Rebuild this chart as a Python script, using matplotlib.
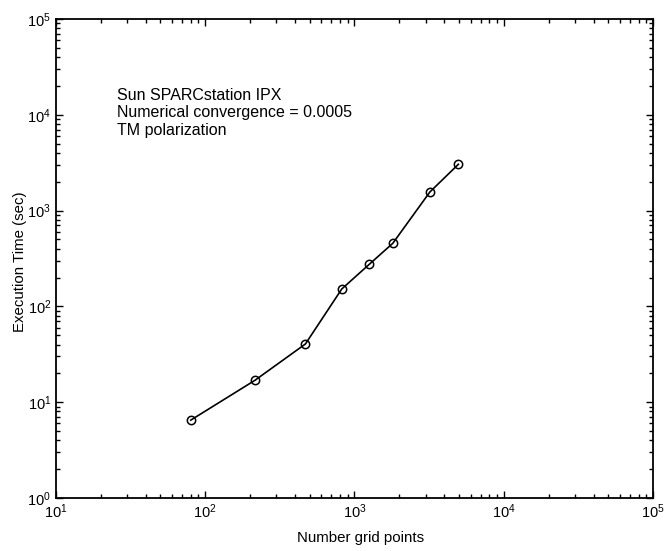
import matplotlib
matplotlib.use("Agg")
import matplotlib.pyplot as plt
from matplotlib.ticker import LogLocator, NullFormatter

plt.rcParams['font.family'] = ['Liberation Sans', 'DejaVu Sans']
plt.rcParams['mathtext.fontset'] = 'custom'
plt.rcParams['mathtext.rm'] = 'Liberation Sans'
plt.rcParams['mathtext.it'] = 'Liberation Sans:italic'
plt.rcParams['mathtext.bf'] = 'Liberation Sans:bold'

grid_points = [80, 215, 469, 822, 1256, 1807, 3200, 4966]
exec_time = [6.5, 16.9, 40.5, 152, 275, 456, 1564, 3043]
annotation_lines = ["Sun SPARCstation IPX", "Numerical convergence = 0.0005", "TM polarization"]

fig = plt.figure(figsize=(6.64, 5.51), dpi=100)
ax = fig.add_axes([0.0843, 0.0962, 0.8991, 0.8693])
ax.plot(grid_points, exec_time, color='black', lw=1.2, marker='o', ms=6,
        mfc='none', mec='black', mew=1.1)
ax.set_xscale('log')
ax.set_yscale('log')
ax.set_xlim(1e1, 1e5)
ax.set_ylim(1e0, 1e5)
for axis in (ax.xaxis, ax.yaxis):
    axis.set_major_locator(LogLocator(base=10, numticks=10))
    axis.set_minor_locator(LogLocator(base=10, subs=range(2, 10), numticks=20))
    axis.set_minor_formatter(NullFormatter())
ax.tick_params(which='both', direction='in', top=True, right=True, labelsize=10.5)
ax.tick_params(which='major', length=5, width=1)
ax.tick_params(which='minor', length=3, width=1)
for s in ax.spines.values():
    s.set_linewidth(1.3)
ax.set_xlabel("Number grid points", fontsize=10.8)
ax.set_ylabel("Execution Time (sec)", fontsize=10.8)
ax.xaxis.set_label_coords(0.511, -0.069)
ax.yaxis.set_label_coords(-0.0486, 0.493)
ax.text(0.103, 0.856, "\n".join(annotation_lines), transform=ax.transAxes,
        fontsize=11.5, va='top', ha='left', linespacing=1.2)
fig.savefig("out.png", dpi=100)
